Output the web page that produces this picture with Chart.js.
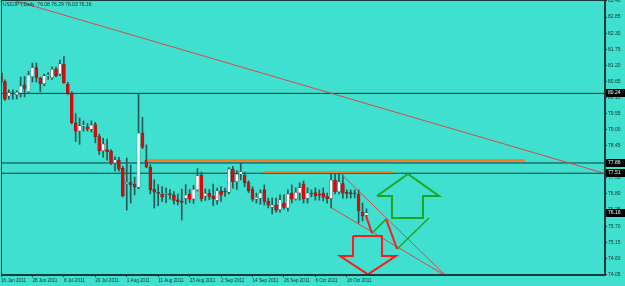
<!DOCTYPE html>
<html lang="en">
<head>
<meta charset="UTF-8">
<title>USDJPY Daily</title>
<script src="https://cdn.jsdelivr.net/npm/chart.js"></script>
<style>
  html, body { margin: 0; padding: 0; background: #40e0d0; }
  #wrap { width: 625px; height: 286px; }
</style>
</head>
<body>
<div id="wrap"><canvas id="fx" width="625" height="286"></canvas></div>
<script>
const symbolTitle = 'USDJPY,Daily  76.08 76.29 76.03 76.16';

// daily candles, 16 Jun 2011 .. 25 Oct 2011
const opens  = [80.94,80.64,80.15,80.26,80.20,80.26,80.53,80.30,80.81,81.12,80.76,80.57,80.84,80.78,81.06,80.91,81.23,80.55,80.24,79.23,
                78.96,79.12,79.10,79.02,79.17,78.76,78.28,78.32,78.27,77.86,77.96,77.68,77.15,77.19,77.13,77.03,78.88,77.96,77.71,76.96,
                76.84,76.80,76.79,76.80,76.77,76.60,76.56,76.65,76.80,76.63,76.94,77.45,76.73,76.82,76.73,76.58,76.91,76.90,76.86,77.65,
                77.22,77.48,77.44,77.19,76.96,76.62,76.66,76.94,76.56,76.35,76.42,76.26,76.48,76.32,76.83,76.63,76.84,77.14,76.66,76.83,
                76.85,76.77,76.83,76.71,76.65,77.28,76.88,77.16,76.84,76.83,76.82,76.80,76.18,76.08];
const highs  = [81.10,80.70,80.36,80.36,80.33,80.80,80.82,81.00,81.28,81.28,80.80,80.90,80.95,81.15,81.14,81.38,81.50,80.62,80.30,79.55,
                79.40,79.30,79.22,79.30,79.25,78.85,78.71,78.68,78.32,78.07,78.05,77.75,78.03,77.79,77.38,80.24,79.42,78.48,77.80,77.28,
                77.12,77.05,77.00,76.95,76.88,76.80,76.97,77.12,76.95,77.10,77.67,77.55,76.98,76.95,77.14,77.00,77.05,77.00,77.70,77.75,
                77.60,77.85,77.55,77.25,77.05,76.83,76.94,77.11,76.66,76.66,76.66,76.77,76.77,76.94,77.11,77.01,77.18,77.25,77.01,76.94,
                77.01,76.94,77.01,76.83,77.52,77.52,77.55,77.45,76.94,76.94,76.94,76.94,76.49,76.29];
const lows   = [80.58,80.00,80.04,80.04,80.05,80.12,80.12,80.25,80.63,80.63,80.30,80.50,80.72,80.72,80.80,80.85,80.58,80.20,79.20,78.60,
                78.50,78.95,78.95,78.92,78.55,78.15,78.06,77.96,77.80,77.59,77.58,76.70,76.25,76.49,76.77,76.98,78.35,77.70,76.80,76.32,
                76.40,76.55,76.50,76.62,76.45,76.43,75.91,76.45,76.50,76.48,76.90,76.55,76.58,76.60,76.40,76.45,76.55,76.72,76.80,77.00,
                76.95,77.28,77.05,76.85,76.55,76.49,76.45,76.42,76.32,76.12,76.18,76.18,76.28,76.21,76.49,76.59,76.59,76.49,76.49,76.70,
                76.59,76.59,76.56,76.49,76.32,76.80,76.80,76.66,76.66,76.66,76.66,75.81,75.88,76.03];
const closes = [80.64,80.04,80.26,80.21,80.28,80.49,80.41,80.87,81.12,80.78,80.56,80.84,80.86,81.06,80.84,81.25,80.61,80.24,79.24,78.95,
                79.13,79.15,79.02,79.16,78.76,78.28,78.51,78.25,77.86,77.97,77.65,76.73,77.20,77.11,77.05,78.88,78.40,77.73,76.94,76.86,
                76.82,76.69,76.81,76.78,76.58,76.55,76.51,76.76,76.62,76.96,77.43,76.64,76.82,76.72,76.64,76.91,76.77,76.86,77.65,77.22,
                77.48,77.57,77.19,76.91,76.62,76.69,76.83,76.55,76.42,76.42,76.25,76.60,76.34,76.80,76.62,76.86,77.01,76.63,76.83,76.80,
                76.74,76.76,76.69,76.64,77.28,76.88,77.22,76.83,76.82,76.81,76.80,76.22,76.05,76.16];

const dateTicks  = [0, 8, 16, 24, 32, 40, 48, 56, 64, 72, 80, 88];
const dateLabels = ['16 Jun 2011','28 Jun 2011','8 Jul 2011','20 Jul 2011','1 Aug 2011','11 Aug 2011',
                    '23 Aug 2011','2 Sep 2011','14 Sep 2011','26 Sep 2011','6 Oct 2011','18 Oct 2011'];
const priceTicks = [83.40,82.85,82.30,81.75,81.20,80.65,80.10,79.55,79.00,78.45,77.90,77.35,76.80,76.25,75.70,75.15,74.60,74.05];

// drawn objects, [bar index, price]
const levelLines   = [80.24, 77.86, 77.51];
const markedPrices = [80.24, 77.86, 77.51, 76.16];
const longTrend    = [[0, 83.55], [153.7, 77.50]];
const channelLow   = [[83.7, 76.36], [113.2, 74.00]];
const channelHigh  = [[86.5, 77.49], [113.2, 74.00]];
const resistThick  = [[37.2, 77.945], [133.3, 77.945]];
const resistThin   = [[66.9, 77.55], [99.7, 77.55]];
const zigRed1      = [[92.9, 76.05], [94.4, 75.46]];
const zigGreen1    = [[94.4, 75.46], [98.0, 75.94]];
const zigRed2      = [[98.0, 75.94], [100.8, 74.92]];
const zigGreen2    = [[100.8, 74.92], [108.9, 75.98]];
const arrowDown    = [[89.57,75.363],[96.95,75.363],[96.95,74.679],[100.5,74.679],[93.38,74.05],[86.26,74.679],[89.57,74.679],[89.57,75.363]];
const arrowUp      = [[95.67,76.731],[103.56,77.484],[111.45,76.731],[107.38,76.731],[107.38,75.979],[99.49,75.979],[99.49,76.731],[95.67,76.731]];

const xMax = 153.7;
const dark = '#163d39';

const pts = arr => arr.map(p => ({x: p[0], y: p[1]}));
function lineSet(arr, color, width, order) {
    return { type: 'line', data: pts(arr), borderColor: color, borderWidth: width,
             pointRadius: 0, fill: false, tension: 0, order: order };
}

const idx = opens.map((_, i) => i);
const datasets = [
    lineSet(arrowDown, '#ff1a1a', 2, 0),
    lineSet(arrowUp, '#1fa51f', 2, 0),
    lineSet(zigRed1, '#ff1a1a', 2, 0),
    lineSet(zigRed2, '#ff1a1a', 2, 0),
    lineSet(zigGreen1, '#1fa51f', 1.5, 0),
    lineSet(zigGreen2, '#1fa51f', 1.5, 0),
    lineSet(longTrend, '#d84848', 1, 0),
    lineSet(channelLow, '#d84848', 1, 0),
    lineSet(channelHigh, '#d84848', 1, 0),
    lineSet(resistThick, '#f7801e', 3, 0),
    lineSet(resistThin, '#f7801e', 2, 0),
    {
        type: 'bar',
        data: idx.map(i => ({x: i, y: [opens[i], closes[i]]})),
        backgroundColor: idx.map(i => closes[i] >= opens[i] ? '#ffffff' : '#f00000'),
        borderColor: '#3c3c3c',
        borderWidth: 0.5,
        borderSkipped: false,
        barThickness: 3,
        minBarLength: 1,
        grouped: false,
        order: 1
    },
    {
        type: 'bar',
        data: idx.map(i => ({x: i, y: [lows[i], highs[i]]})),
        backgroundColor: '#245a53',
        barThickness: 1,
        grouped: false,
        order: 2
    }
];
levelLines.forEach(v => datasets.push(lineSet([[0, v], [xMax, v]], '#0f3a35', 1, 3)));

const mt4Plugin = {
    id: 'mt4',
    beforeDraw(chart) {
        const c = chart.ctx;
        c.save();
        c.fillStyle = '#40e0d0';
        c.fillRect(0, 0, chart.width, chart.height);
        c.restore();
    },
    afterDraw(chart) {
        const c = chart.ctx, a = chart.chartArea, y = chart.scales.y;
        c.save();
        c.strokeStyle = dark;
        c.lineWidth = 1;
        c.strokeRect(a.left + 0.5, a.top + 0.5, a.right - a.left - 1, a.bottom - a.top - 1);
        c.font = '5px "Liberation Sans"';
        c.textBaseline = 'middle';
        c.fillStyle = '#10302c';
        c.fillText(symbolTitle, 3, 5);
        markedPrices.forEach(p => {
            const py = Math.round(y.getPixelForValue(p));
            c.fillStyle = '#000000';
            c.fillRect(a.right + 1, py - 4, 19, 8);
            c.fillStyle = '#ffffff';
            c.fillText(p.toFixed(2), a.right + 3, py);
        });
        c.restore();
    }
};

new Chart(document.getElementById('fx').getContext('2d'), {
    type: 'bar',
    data: { datasets: datasets },
    plugins: [mt4Plugin],
    options: {
        responsive: false,
        animation: false,
        devicePixelRatio: 1,
        layout: { padding: { left: 1, top: 0, right: 0, bottom: 0 } },
        plugins: { legend: { display: false }, tooltip: { enabled: false } },
        scales: {
            x: {
                type: 'linear',
                position: 'bottom',
                offset: false,
                min: 0,
                max: xMax,
                afterBuildTicks: s => { s.ticks = dateTicks.map(v => ({value: v})); },
                afterFit: s => { s.height = 11; s.paddingLeft = 0; s.paddingRight = 0; },
                grid: { drawOnChartArea: false, offset: false, tickLength: 2, color: dark },
                border: { color: dark },
                ticks: {
                    autoSkip: false,
                    maxRotation: 0,
                    align: 'start',
                    padding: 1,
                    color: '#10302c',
                    font: { family: 'Liberation Sans', size: 4.6 },
                    callback: v => dateLabels[dateTicks.indexOf(v)]
                }
            },
            y: {
                type: 'linear',
                position: 'right',
                min: 74.03,
                max: 83.434,
                afterBuildTicks: s => { s.ticks = priceTicks.map(v => ({value: v})); },
                afterFit: s => { s.width = 20; s.paddingTop = 0; s.paddingBottom = 0; },
                grid: { drawOnChartArea: false, tickLength: 2, color: dark },
                border: { color: dark },
                ticks: {
                    padding: 1,
                    color: '#10302c',
                    font: { family: 'Liberation Sans', size: 5 },
                    callback: v => v.toFixed(2)
                }
            }
        }
    }
});
</script>
</body>
</html>
